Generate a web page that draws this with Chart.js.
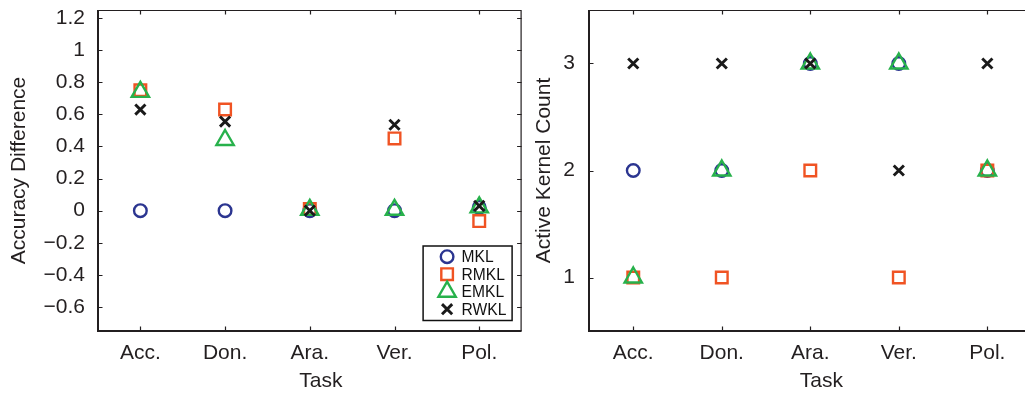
<!DOCTYPE html>
<html>
<head>
<meta charset="utf-8">
<script src="https://cdn.jsdelivr.net/npm/chart.js@4/dist/chart.umd.min.js"></script>
<style>
  html, body { margin: 0; padding: 0; background: #ffffff; overflow: hidden; width: 1025px; height: 393px; }
  .wrap { position: absolute; top: 0; height: 393px; }
</style>
</head>
<body>
<div class="wrap" style="left:0;width:525px;"><canvas id="c1"></canvas></div>
<div class="wrap" style="left:520px;width:520px;"><canvas id="c2"></canvas></div>
<script>
// ---- data ----
const categories = ['Acc.', 'Don.', 'Ara.', 'Ver.', 'Pol.'];
const seriesNames = ['MKL', 'RMKL', 'EMKL', 'RWKL'];

// Accuracy difference (left panel)
const accMKL  = [0, 0, 0, 0, 0.02];
const accRMKL = [0.75, 0.63, 0.01, 0.45, -0.065];
const accEMKL = [0.74, 0.44, 0.005, 0.005, 0.02];
const accRWKL = [0.63, 0.555, 0, 0.535, 0.03];

// Active kernel count (right panel)
const kerMKL  = [2, 2, 3, 3, 2];
const kerRMKL = [1, 1, 2, 1, 2];
const kerEMKL = [1, 2, 3, 3, 2];
const kerRWKL = [3, 3, 3, 2, 3];

const accTicks = [-0.6, -0.4, -0.2, 0, 0.2, 0.4, 0.6, 0.8, 1, 1.2];
const kerTicks = [1, 2, 3];

const xTitle = 'Task';
const accTitle = 'Accuracy Difference';
const kerTitle = 'Active Kernel Count';

// ---- styles ----
const FONT = "'Liberation Sans', Arial, Helvetica, sans-serif";
const TXT = '#231f20';
const markerStyles = [
  { pointStyle: 'circle',   color: '#2b3590', radius: 6.3, borderWidth: 2.4 },
  { pointStyle: 'rect',     color: '#f05323', radius: 8.2, borderWidth: 2.4 },
  { pointStyle: 'triangle', color: '#27b14b', radius: 10,  borderWidth: 2.4 },
  { pointStyle: 'crossRot', color: '#1a1a1a', radius: 7.2, borderWidth: 2.9 }
];

function makeDatasets(arrays) {
  return arrays.map((arr, i) => ({
    label: seriesNames[i],
    data: arr,
    showLine: false,
    pointStyle: markerStyles[i].pointStyle,
    pointRadius: markerStyles[i].radius,
    pointHoverRadius: markerStyles[i].radius,
    pointBorderWidth: markerStyles[i].borderWidth,
    pointBorderColor: markerStyles[i].color,
    pointBackgroundColor: 'rgba(0,0,0,0)',
    borderColor: markerStyles[i].color,
    backgroundColor: 'rgba(0,0,0,0)',
    order: 3 - i,
    clip: false
  }));
}

function fmtTick(v) {
  if (Math.abs(v) < 1e-9) return '0';
  let s = Number.isInteger(v) ? String(Math.abs(v)) : Math.abs(v).toFixed(1);
  return (v < 0 ? '\u2212' : '') + s;
}

// frame with inward ticks, like the original
const framePlugin = {
  id: 'frame',
  beforeDatasetsDraw(chart) {
    const ctx = chart.ctx;
    const ca = chart.chartArea;
    const xs = chart.scales.x, ys = chart.scales.y;
    ctx.save();
    ctx.strokeStyle = TXT;
    // thin top/right
    ctx.lineWidth = 1.2;
    ctx.beginPath();
    ctx.moveTo(ca.left, ca.top + 0.5); ctx.lineTo(ca.right, ca.top + 0.5);
    ctx.moveTo(ca.right - 0.5, ca.top); ctx.lineTo(ca.right - 0.5, ca.bottom);
    ctx.stroke();
    // ticks
    const tl = 4.5;
    ctx.beginPath();
    ys.ticks.forEach(t => {
      const y = Math.round(ys.getPixelForValue(t.value)) + 0.5;
      ctx.moveTo(ca.left, y); ctx.lineTo(ca.left + tl, y);
      ctx.moveTo(ca.right, y); ctx.lineTo(ca.right - tl, y);
    });
    xs.ticks.forEach((t, i) => {
      const x = Math.round(xs.getPixelForTick(i)) + 0.5;
      ctx.moveTo(x, ca.bottom); ctx.lineTo(x, ca.bottom - tl);
      ctx.moveTo(x, ca.top); ctx.lineTo(x, ca.top + tl);
    });
    ctx.stroke();
    // thick left/bottom
    ctx.lineWidth = 2;
    ctx.beginPath();
    ctx.moveTo(ca.left, ca.top); ctx.lineTo(ca.left, ca.bottom);
    ctx.lineTo(ca.right, ca.bottom);
    ctx.stroke();
    ctx.restore();
  },
  afterDraw(chart) {
    // x-axis title
    const ctx = chart.ctx;
    const ca = chart.chartArea;
    ctx.save();
    ctx.fillStyle = TXT;
    ctx.font = '21px ' + FONT;
    ctx.textAlign = 'center';
    ctx.textBaseline = 'middle';
    ctx.fillText(xTitle, (ca.left + ca.right) / 2 + 11, 381.5);
    ctx.restore();
  }
};

const legendPlugin = {
  id: 'boxLegend',
  afterDraw(chart) {
    const ctx = chart.ctx;
    const ca = chart.chartArea;
    const w = 89, h = 74.5;
    const right = ca.right - 9.5, bottom = ca.bottom - 10.5;
    const left = right - w, top = bottom - h;
    ctx.save();
    ctx.fillStyle = '#ffffff';
    ctx.fillRect(left, top, w, h);
    ctx.strokeStyle = '#111';
    ctx.lineWidth = 1.5;
    ctx.strokeRect(left, top, w, h);
    ctx.font = '15.6px ' + FONT;
    ctx.textBaseline = 'middle';
    ctx.textAlign = 'left';
    chart.data.datasets.forEach((ds, i) => {
      const y = top + 10.7 + i * 17.5;
      const st = markerStyles[i];
      ctx.strokeStyle = st.color;
      ctx.fillStyle = 'rgba(0,0,0,0)';
      ctx.lineWidth = st.borderWidth;
      Chart.helpers.drawPoint(ctx, { pointStyle: st.pointStyle, radius: st.radius, rotation: 0, borderWidth: st.borderWidth }, left + 24, y);
      ctx.fillStyle = '#111';
      ctx.fillText(ds.label, left + 38.5, y + 1);
    });
    ctx.restore();
  }
};

function makeChart(id, arrays, ticksArr, yMin, yMax, yTitle, yWidth, yTitlePad, yTickPad, padRight, withLegend) {
  return new Chart(document.getElementById(id), {
    type: 'line',
    data: { labels: categories, datasets: makeDatasets(arrays) },
    options: {
      responsive: true,
      maintainAspectRatio: false,
      animation: false,
      layout: { autoPadding: false, padding: { top: 10, right: padRight, left: 0, bottom: 0 } },
      plugins: { legend: { display: false }, tooltip: { enabled: false } },
      scales: {
        x: {
          type: 'category',
          offset: true,
          grid: { display: false, drawTicks: false },
          border: { display: false },
          ticks: { color: TXT, font: { family: FONT, size: 21 }, padding: 9.4, maxRotation: 0, autoSkip: false },
          afterFit(s) { s.height = 62; s.paddingLeft = 0; s.paddingRight = 0; }
        },
        y: {
          type: 'linear',
          min: yMin, max: yMax,
          grid: { display: false, drawTicks: false },
          border: { display: false },
          afterBuildTicks(s) { s.ticks = ticksArr.map(v => ({ value: v })); },
          ticks: { color: TXT, font: { family: FONT, size: 21 }, padding: yTickPad, callback: v => fmtTick(v) },
          title: { display: true, text: yTitle, color: TXT, font: { family: FONT, size: 21, lineHeight: 1 }, padding: { top: yTitlePad, bottom: 0 } },
          afterFit(s) { s.width = yWidth; s.paddingTop = 0; s.paddingBottom = 0; }
        }
      }
    },
    plugins: withLegend ? [framePlugin, legendPlugin] : [framePlugin]
  });
}

makeChart('c1', [accMKL, accRMKL, accEMKL, accRWKL], accTicks, -0.75, 1.25, accTitle, 98, 8.5, 13, 3.4, true);
makeChart('c2', [kerMKL, kerRMKL, kerEMKL, kerRWKL], kerTicks, 0.5, 3.5, kerTitle, 69, 13.5, 14, 8.4, false);
</script>
</body>
</html>
